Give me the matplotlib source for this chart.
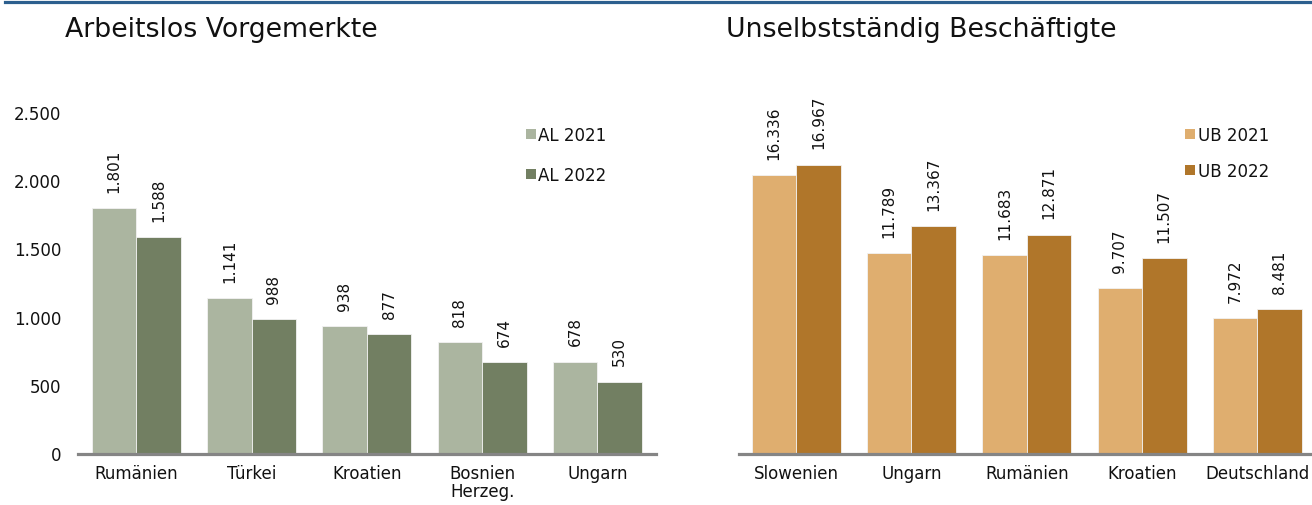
import matplotlib
matplotlib.use("Agg")
import matplotlib.pyplot as plt
from matplotlib.patches import Rectangle
from matplotlib.lines import Line2D
from matplotlib.ticker import FuncFormatter
import numpy as np

# ---------------- data ----------------
al_title = "Arbeitslos Vorgemerkte"
al_categories = ["Rumänien", "Türkei", "Kroatien", "Bosnien\nHerzeg.", "Ungarn"]
al_2021 = [1801, 1141, 938, 818, 678]
al_2022 = [1588, 988, 877, 674, 530]
al_series = ["AL 2021", "AL 2022"]
al_yticks = [0, 500, 1000, 1500, 2000, 2500]

ub_title = "Unselbstständig Beschäftigte"
ub_categories = ["Slowenien", "Ungarn", "Rumänien", "Kroatien", "Deutschland"]
ub_2021 = [16336, 11789, 11683, 9707, 7972]
ub_2022 = [16967, 13367, 12871, 11507, 8481]
ub_series = ["UB 2021", "UB 2022"]

# ---------------- style ----------------
W, H = 1312, 505
C_AL = ["#ABB5A0", "#727F62"]
C_UB = ["#DFAE6F", "#B0762A"]
plt.rcParams["font.family"] = ["DejaVu Sans"]


def fmt(v):
    return f"{int(v):,}".replace(",", ".")


def fx(px):
    return px / W


def fy(py):
    return 1 - py / H


fig = plt.figure(figsize=(W / 100, H / 100), dpi=100)

# top blue rule
fig.add_artist(Line2D([fx(5), 1], [fy(1.5), fy(1.5)], color="#2C5F8E", lw=2.3,
                      transform=fig.transFigure))


def panel(left_px, right_px, xlim, ylim, cats, s1, s2, colors, names, title,
          title_x, leg_sq_x, leg_rows, yticks):
    ax = fig.add_axes([fx(left_px), fy(454), fx(right_px - left_px), (454 - 113) / H])
    x = np.arange(len(cats))
    bw = 0.386
    b1 = ax.bar(x - bw / 2, s1, bw, color=colors[0], edgecolor="#F2F2F2", linewidth=0.6, zorder=1)
    b2 = ax.bar(x + bw / 2, s2, bw, color=colors[1], edgecolor="#F2F2F2", linewidth=0.6, zorder=1)
    for bars, vals in ((b1, s1), (b2, s2)):
        for rect, v in zip(bars, vals):
            ax.annotate(fmt(v), (rect.get_x() + rect.get_width() / 2, rect.get_height()),
                        xytext=(0, 11), textcoords="offset points", rotation=90,
                        ha="center", va="bottom", fontsize=11, color="#111111")
    ax.set_xlim(*xlim)
    ax.set_ylim(*ylim)
    for s in ("top", "right", "left"):
        ax.spines[s].set_visible(False)
    ax.spines["bottom"].set_color("#858585")
    ax.spines["bottom"].set_linewidth(2.3)
    ax.spines["bottom"].set_zorder(3)
    ax.set_xticks(x)
    ax.set_xticklabels(cats, fontsize=12, linespacing=1.0)
    ax.tick_params(axis="x", length=0, pad=8, colors="#111111")
    if yticks:
        ax.set_yticks(yticks)
        ax.yaxis.set_major_formatter(FuncFormatter(lambda v, p: fmt(v)))
        ax.tick_params(axis="y", length=0, pad=12, labelsize=12, colors="#111111")
    else:
        ax.set_yticks([])
    ax.patch.set_alpha(0)
    # title
    fig.text(fx(title_x), fy(36.7), title, fontsize=19.25, va="baseline", ha="left",
             color="#111111")
    # legend (manual)
    for name, col, yc in zip(names, colors, leg_rows):
        sq = 9.5
        fig.add_artist(Rectangle((fx(leg_sq_x), fy(yc + sq / 2)), fx(sq), sq / H,
                                 transform=fig.transFigure, facecolor=col, edgecolor="none"))
        fig.text(fx(leg_sq_x + sq + 3), fy(yc), name, fontsize=12,
                 va="center_baseline", ha="left", color="#111111")
    return ax


panel(78, 655.7, (-0.506, 4.505), (0, 2500), al_categories, al_2021, al_2022, C_AL,
      al_series, al_title, 65, 526, [134, 174], al_yticks)
panel(738.5, 1312, (-0.5, 4.474), (0, 20000), ub_categories, ub_2021, ub_2022, C_UB,
      ub_series, ub_title, 726, 1185, [134, 170], None)

fig.savefig("out.png", dpi=100)
